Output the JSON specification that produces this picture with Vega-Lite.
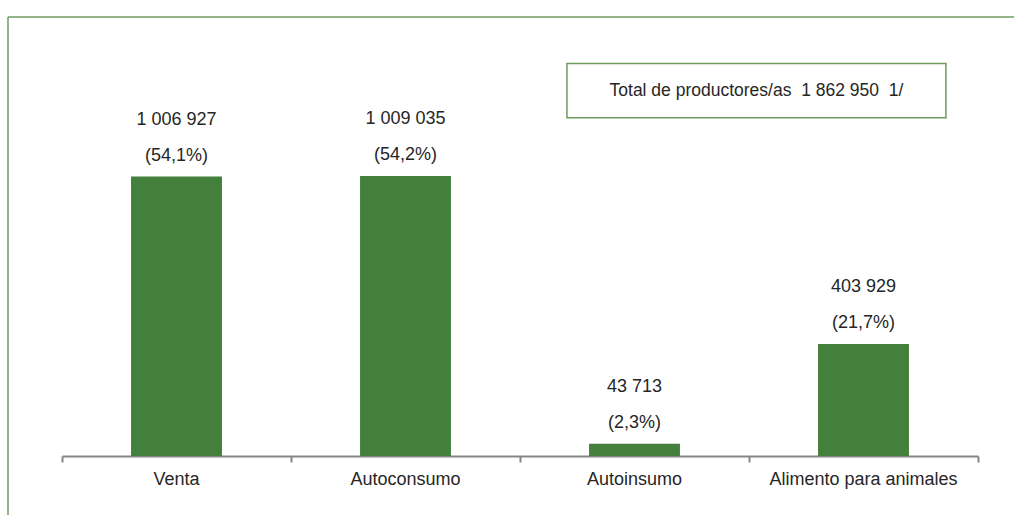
{
  "$schema": "https://vega.github.io/schema/vega-lite/v6.json",
  "width": 916,
  "height": 444,
  "autosize": {"type": "none"},
  "padding": {"left": 62, "top": 12, "right": 36, "bottom": 59},
  "background": "white",
  "config": {
    "view": {"stroke": null},
    "font": "Liberation Sans",
    "text": {"font": "Liberation Sans", "color": "#262626"}
  },
  "data": {
    "values": [
      {"categoria": "Venta", "productores": 1006927, "cifra": "1 006 927", "porcentaje": "(54,1%)"},
      {"categoria": "Autoconsumo", "productores": 1009035, "cifra": "1 009 035", "porcentaje": "(54,2%)"},
      {"categoria": "Autoinsumo", "productores": 43713, "cifra": "43 713", "porcentaje": "(2,3%)"},
      {"categoria": "Alimento para animales", "productores": 403929, "cifra": "403 929", "porcentaje": "(21,7%)"}
    ]
  },
  "resolve": {"scale": {"x": "independent"}},
  "layer": [
    {
      "mark": {"type": "bar", "color": "#43803B", "width": {"band": 0.397}},
      "encoding": {
        "x": {
          "field": "categoria", "type": "nominal", "sort": null,
          "scale": {"paddingInner": 0, "paddingOuter": 0},
          "axis": {
            "title": null, "labelAngle": 0, "labelFontSize": 18, "labelColor": "#262626",
            "labelFont": "Liberation Sans", "labelPadding": 8, "labelLimit": 0,
            "domainColor": "#868686", "domainWidth": 2, "tickColor": "#868686", "tickWidth": 2,
            "tickSize": 6, "bandPosition": 1, "tickExtra": true, "grid": false
          }
        },
        "y": {"field": "productores", "type": "quantitative", "scale": {"domain": [0, 1582000]}, "axis": null}
      }
    },
    {
      "mark": {"type": "text", "dy": -21, "fontSize": 18, "baseline": "middle"},
      "encoding": {
        "x": {"field": "categoria", "type": "nominal", "sort": null, "scale": {"paddingInner": 0, "paddingOuter": 0}, "axis": null},
        "y": {"field": "productores", "type": "quantitative"},
        "text": {"field": "porcentaje"}
      }
    },
    {
      "mark": {"type": "text", "dy": -57, "fontSize": 18, "baseline": "middle"},
      "encoding": {
        "x": {"field": "categoria", "type": "nominal", "sort": null, "scale": {"paddingInner": 0, "paddingOuter": 0}, "axis": null},
        "y": {"field": "productores", "type": "quantitative"},
        "text": {"field": "cifra"}
      }
    },
    {
      "data": {"values": [{}]},
      "mark": {"type": "rule", "color": "#6F9B5C", "strokeWidth": 1.5},
      "encoding": {
        "x": {"datum": -0.2358, "type": "quantitative", "scale": {"domain": [0, 4]}, "axis": null},
        "x2": {"datum": 4.5},
        "y": {"datum": 1582000, "type": "quantitative"}
      }
    },
    {
      "data": {"values": [{}]},
      "mark": {"type": "rule", "color": "#6F9B5C", "strokeWidth": 1.5},
      "encoding": {
        "x": {"datum": -0.2358, "type": "quantitative", "scale": {"domain": [0, 4]}, "axis": null},
        "y": {"datum": 1582000, "type": "quantitative"},
        "y2": {"datum": -400000}
      }
    },
    {
      "data": {"values": [{}]},
      "mark": {"type": "rect", "fill": "white", "stroke": "#6F9B5C", "strokeWidth": 1.5},
      "encoding": {
        "x": {"datum": 2.205, "type": "quantitative", "scale": {"domain": [0, 4]}, "axis": null},
        "x2": {"datum": 3.86},
        "y": {"datum": 1414500, "type": "quantitative"},
        "y2": {"datum": 1218500}
      }
    },
    {
      "data": {"values": [{"nota": "Total de productores/as\u00a0 1 862 950\u00a0 1/"}]},
      "mark": {"type": "text", "fontSize": 17.5, "baseline": "middle", "align": "center"},
      "encoding": {
        "x": {"datum": 3.0325, "type": "quantitative", "scale": {"domain": [0, 4]}, "axis": null},
        "y": {"datum": 1314700, "type": "quantitative"},
        "text": {"field": "nota"}
      }
    }
  ]
}
